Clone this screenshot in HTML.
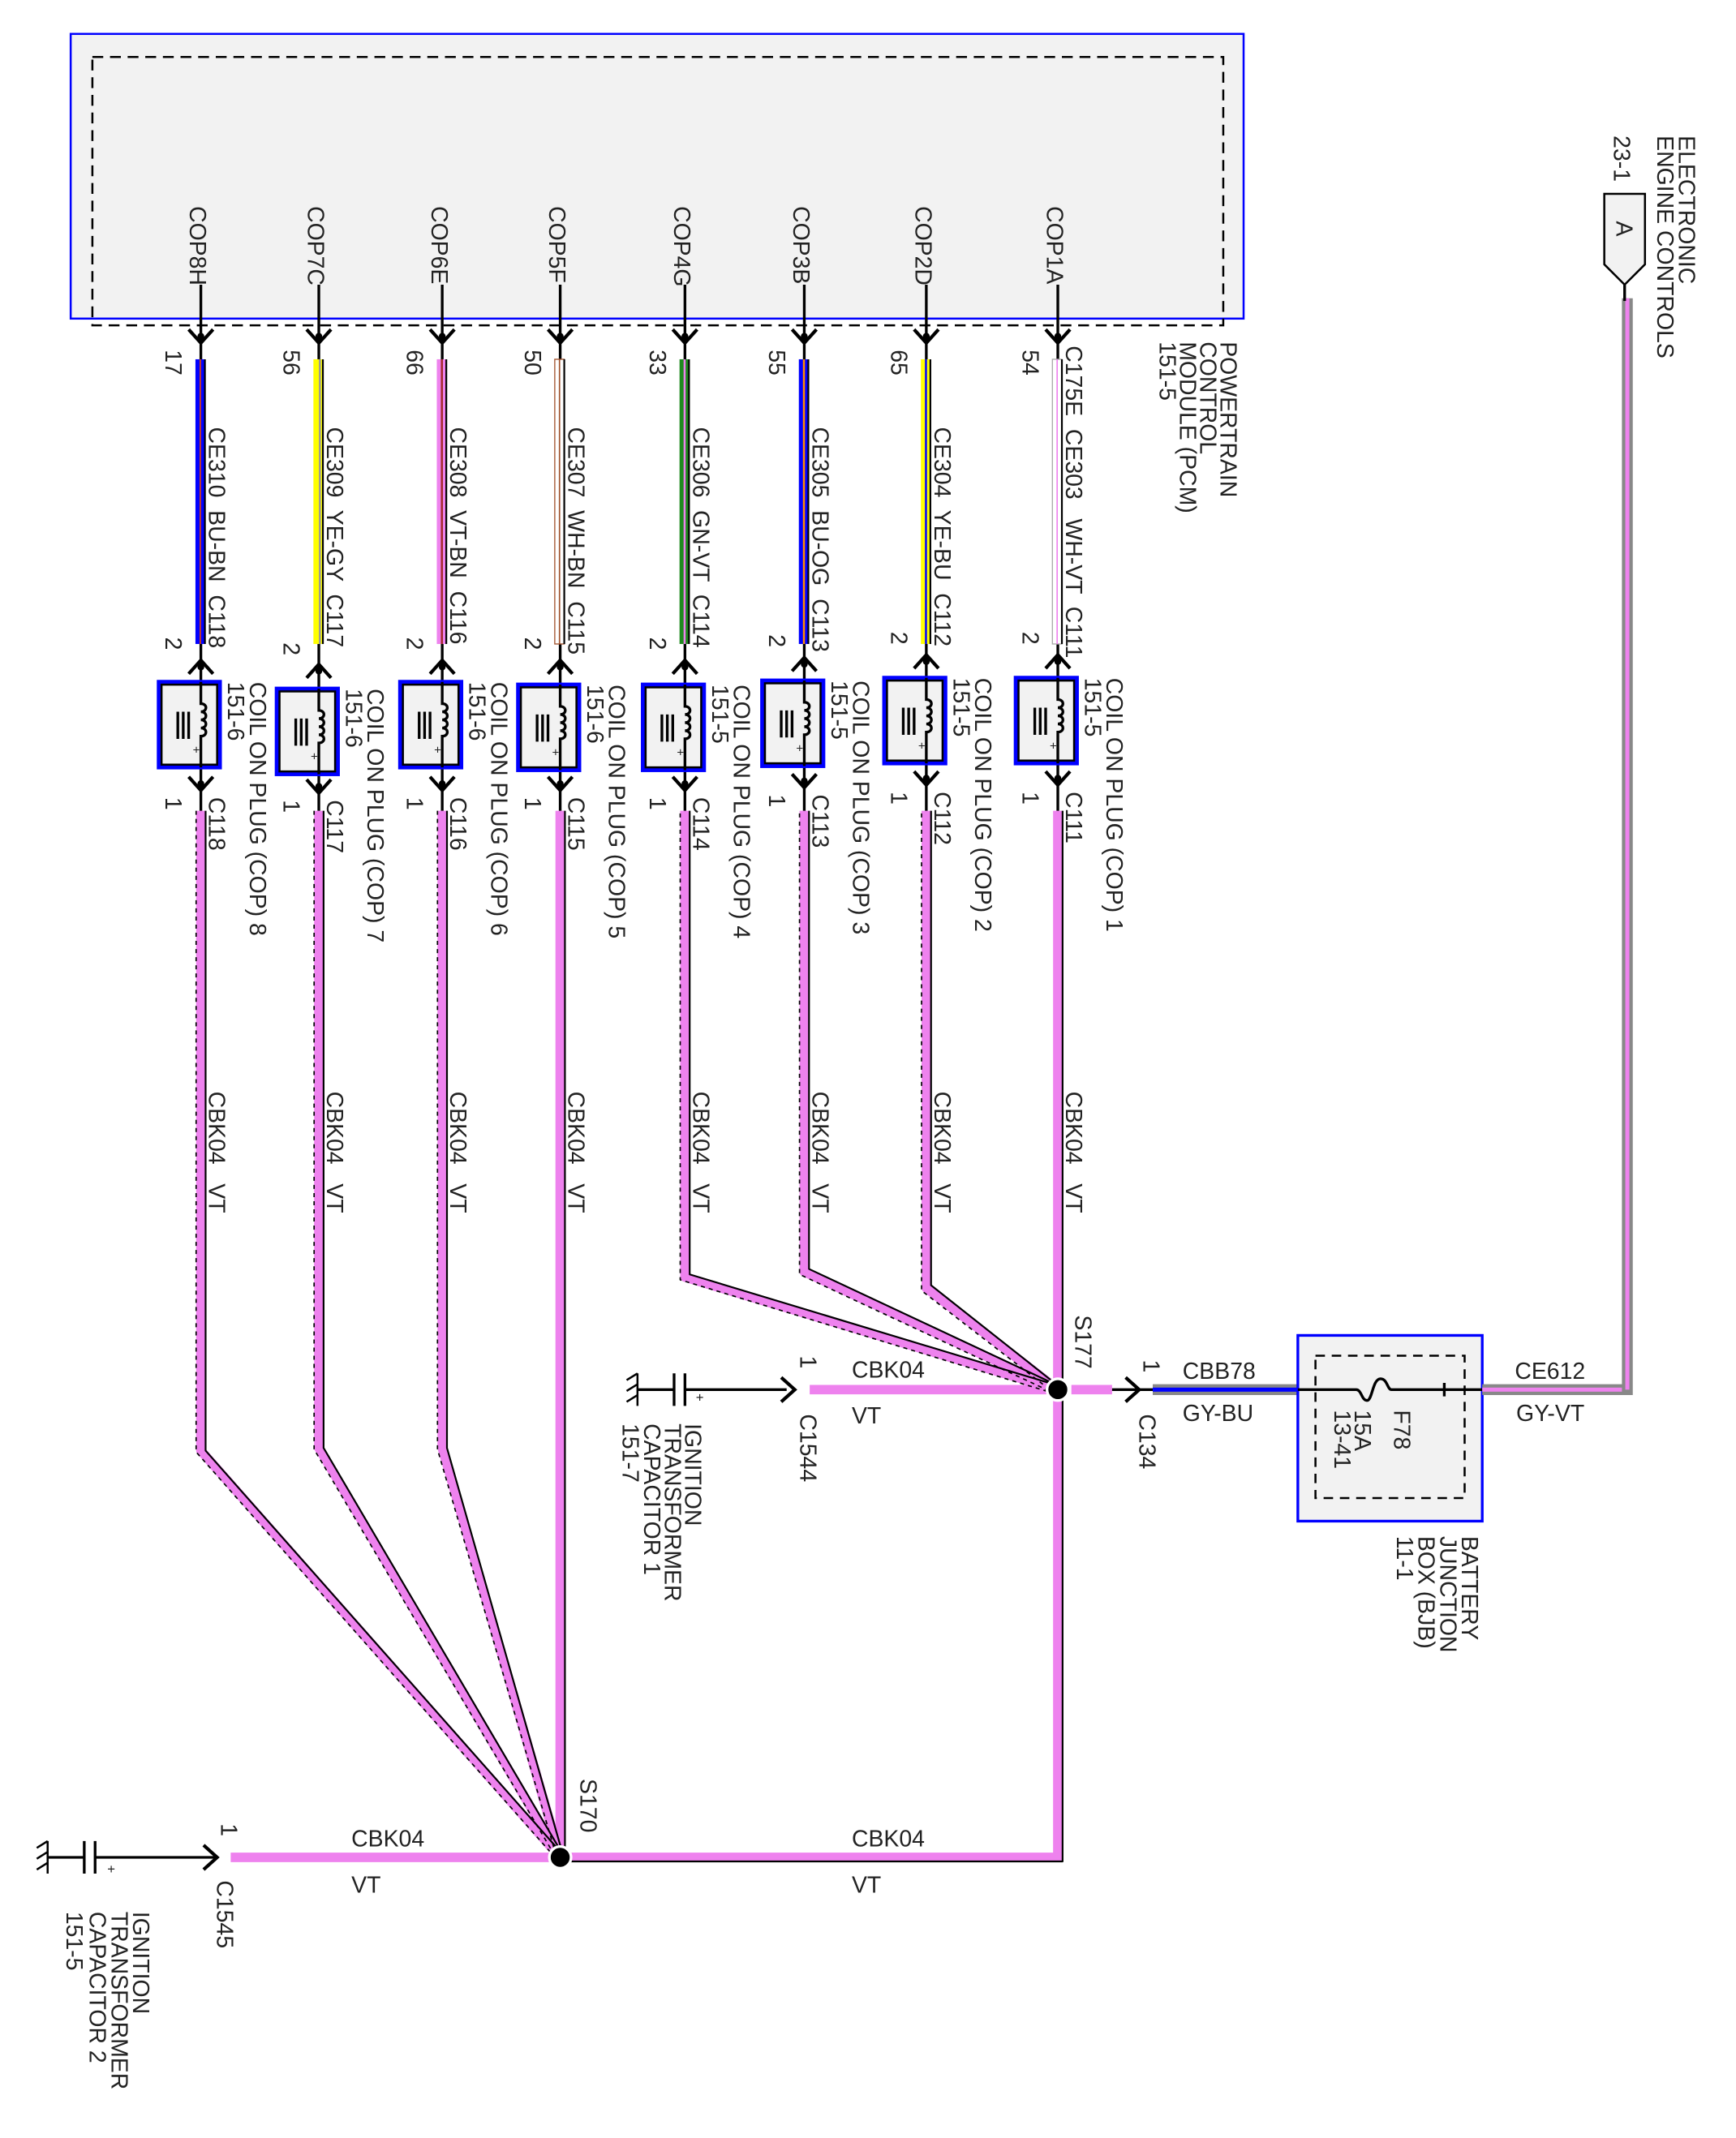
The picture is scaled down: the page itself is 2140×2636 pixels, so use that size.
<!DOCTYPE html>
<html><head><meta charset="utf-8"><style>
html,body{margin:0;padding:0;background:#fff}
svg{display:block}
text{font-family:"Liberation Sans",sans-serif;font-size:17px;fill:#222}
</style></head><body>
<svg width="2140" height="2636" viewBox="0 0 1280 1577" xmlns="http://www.w3.org/2000/svg">
<defs>
<g id="ad"><path d="M-9,-7 L0,3 L9,-7" fill="none" stroke="#000" stroke-width="2.5"/><circle cx="0" cy="-2" r="2.5" fill="#000"/></g>
<g id="au"><path d="M-9,7 L0,-3 L9,7" fill="none" stroke="#000" stroke-width="2.5"/><circle cx="0" cy="2" r="2.5" fill="#000"/></g>
<g id="coil">
<rect x="-31" y="0" width="45" height="63" fill="#f2f2f2" stroke="#0000ff" stroke-width="3"/>
<rect x="-29" y="2" width="41" height="59" fill="none" stroke="#000" stroke-width="1.5"/>
<path d="M0,0 V16 c5,0 5,6 0,6 c5,0 5,6 0,6 c5,0 5,6 0,6 c5,0 5,6 0,6 V63" fill="none" stroke="#000" stroke-width="2"/>
<path d="M-17,22 V42 M-13,22 V42 M-9,22 V42" stroke="#000" stroke-width="2"/>
<text x="-6" y="53" style="font-size:9px">+</text>
</g>
</defs>

<!-- PCM -->
<rect x="52" y="25" width="865" height="210" fill="#f2f2f2" stroke="#0000ff" stroke-width="1.5"/>
<rect x="68" y="42" width="834" height="198" fill="none" stroke="#000" stroke-width="1.5" stroke-dasharray="8,5"/>
<g transform="translate(900,252) rotate(90)"><text x="0" y="0">POWERTRAIN</text><text x="0" y="15">CONTROL</text><text x="0" y="30">MODULE (PCM)</text><text x="0" y="45">151-5</text></g>

<!-- wire columns -->
<g stroke-linecap="butt">
<path d="M148,210 V265 M235,210 V265 M326,210 V265 M413,210 V265 M505,210 V265 M593,210 V265 M683,210 V265 M780,210 V265" stroke="#000" stroke-width="2"/>
<path d="M148,475 V600 M235,475 V600 M326,475 V600 M413,475 V600 M505,475 V600 M593,475 V600 M683,475 V600 M780,475 V600" stroke="#000" stroke-width="2"/>
<rect x="144" y="265" width="7" height="210" fill="#0000ff"/><rect x="147" y="265" width="1.2" height="210" fill="#c0392b"/>
<rect x="231" y="265" width="7" height="210" fill="#ffff00"/><rect x="235" y="265" width="1.5" height="210" fill="#999"/>
<rect x="322" y="265" width="7" height="210" fill="#ee82ee"/><rect x="325" y="265" width="1.5" height="210" fill="#a52a2a"/>
<rect x="409" y="265" width="7" height="210" fill="#fff" stroke="#a0522d" stroke-width=".8"/><rect x="412" y="265" width="1" height="210" fill="#a0522d"/>
<rect x="501" y="265" width="7" height="210" fill="#1f8a1f"/><rect x="504" y="265" width="1.5" height="210" fill="#ee82ee"/>
<rect x="589" y="265" width="7" height="210" fill="#0000ff"/><rect x="592" y="265" width="1.5" height="210" fill="#ff8c00"/>
<rect x="679" y="265" width="7" height="210" fill="#ffff00"/><rect x="682" y="265" width="1.5" height="210" fill="#0000ff"/>
<rect x="776" y="265" width="7" height="210" fill="#fff" stroke="#aaa" stroke-width=".8"/><rect x="779" y="265" width="1" height="210" fill="#ee82ee"/>
<path d="M151,265 V475 M238,265 V475 M329,265 V475 M416,265 V475 M508,265 V475 M596,265 V475 M686,265 V475 M783,265 V475" stroke="#000" stroke-width="1.3"/>
</g>

<!-- coils -->
<use href="#coil" x="148" y="503"/><use href="#coil" x="235" y="508"/><use href="#coil" x="326" y="503"/><use href="#coil" x="413" y="505"/>
<use href="#coil" x="505" y="505"/><use href="#coil" x="593" y="502"/><use href="#coil" x="683" y="500"/><use href="#coil" x="780" y="500"/>

<!-- arrows -->
<g>
<use href="#ad" x="148" y="250"/><use href="#ad" x="235" y="250"/><use href="#ad" x="326" y="250"/><use href="#ad" x="413" y="250"/><use href="#ad" x="505" y="250"/><use href="#ad" x="593" y="250"/><use href="#ad" x="683" y="250"/><use href="#ad" x="780" y="250"/>
<use href="#au" x="148" y="490"/><use href="#au" x="235" y="493"/><use href="#au" x="326" y="490"/><use href="#au" x="413" y="490"/><use href="#au" x="505" y="490"/><use href="#au" x="593" y="488"/><use href="#au" x="683" y="486"/><use href="#au" x="780" y="486"/>
<use href="#ad" x="148" y="580"/><use href="#ad" x="235" y="582"/><use href="#ad" x="326" y="580"/><use href="#ad" x="413" y="580"/><use href="#ad" x="505" y="580"/><use href="#ad" x="593" y="578"/><use href="#ad" x="683" y="576"/><use href="#ad" x="780" y="576"/>
</g>

<!-- pink harness -->
<g fill="none" stroke-linejoin="round">
<path d="M148,598 V1070 L413,1370 M235,598 V1068 L413,1370 M326,598 V1068 L413,1370 M413,598 V1370 M505,598 V942 L780,1025 M593,598 V938 L780,1025 M683,598 V950 L780,1025 M780,598 V1370 H413 M170,1370 H413 M597,1025 H780 M790,1025 H820" stroke="#ee82ee" stroke-width="7"/>
<path d="M151.5,598 V1070 L415,1368 M238.5,598 V1068 L415,1368 M329.5,598 V1068 L415,1368 M416.5,598 V1370 M508.5,598 V940 L780,1022 M596.5,598 V936 L780,1022 M686.5,598 V948 L780,1022 M783.5,598 V1373 H413" stroke="#000" stroke-width="1.3"/>
<path d="M144.5,598 V1071 L411,1372 M231.5,598 V1069 L411,1372 M322.5,598 V1069 L411,1372 M501.5,600 V944 L778,1028 M589.5,600 V940 L778,1028 M679.5,600 V952 L778,1028" stroke="#000" stroke-width="1" stroke-dasharray="3,3"/>
</g>
<circle cx="413" cy="1370" r="8" fill="#000" stroke="#fff" stroke-width="2"/>
<circle cx="780" cy="1025" r="8" fill="#000" stroke="#fff" stroke-width="2"/>

<!-- capacitor 1 -->
<path d="M470,1025 H497 M505,1025 H580" stroke="#000" stroke-width="2"/>
<path d="M497,1013 V1037 M505,1013 V1037" stroke="#000" stroke-width="2"/>
<path d="M470,1013 V1037 M470,1013 l-8,5 M470,1021 l-8,5 M470,1029 l-8,5" stroke="#000" stroke-width="1.5"/>
<text x="513" y="1034" style="font-size:10px">+</text>
<path d="M576,1016 L586,1025 L576,1034" fill="none" stroke="#000" stroke-width="2.5"/>
<!-- capacitor 2 -->
<path d="M35,1370 H62 M70,1370 H160" stroke="#000" stroke-width="2"/>
<path d="M62,1358 V1382 M70,1358 V1382" stroke="#000" stroke-width="2"/>
<path d="M35,1358 V1382 M35,1358 l-8,5 M35,1366 l-8,5 M35,1374 l-8,5" stroke="#000" stroke-width="1.5"/>
<text x="79" y="1382" style="font-size:10px">+</text>
<path d="M150,1361 L160,1370 L150,1379" fill="none" stroke="#000" stroke-width="2.5"/>

<!-- C134 + BJB -->
<path d="M820,1025 H850" stroke="#000" stroke-width="2"/>
<path d="M830,1016 L840,1025 L830,1034" fill="none" stroke="#000" stroke-width="2.5"/>
<rect x="850" y="1021" width="107" height="8" fill="#888"/><rect x="850" y="1023.5" width="107" height="3" fill="#0000ff"/>
<rect x="957" y="985" width="136" height="137" fill="#f2f2f2" stroke="#0000ff" stroke-width="2"/>
<rect x="970" y="1000" width="110" height="105" fill="none" stroke="#000" stroke-width="1.5" stroke-dasharray="7,5"/>
<path d="M957,1025 H1000 c4,0 4,8 8,8 c4,0 4,-16 10,-16 c5,0 5,8 8,8 H1093 M1065,1020 V1030" fill="none" stroke="#000" stroke-width="2"/>
<rect x="1093" y="1021" width="107" height="8" fill="#888"/><rect x="1093" y="1023.5" width="107" height="3" fill="#ee82ee"/>
<rect x="1196" y="220" width="8" height="809" fill="#888"/><rect x="1198.5" y="220" width="3" height="805" fill="#ee82ee"/>
<path d="M1183,143 H1213 V195 L1198,210 L1183,195 Z" fill="#f2f2f2" stroke="#000" stroke-width="1.5"/>
<path d="M1198,210 V222" stroke="#000" stroke-width="2"/>

<!-- rotated labels -->
<g>
<g transform="translate(140,152) rotate(90)"><text>COP8H</text></g>
<g transform="translate(227,152) rotate(90)"><text>COP7C</text></g>
<g transform="translate(318,152) rotate(90)"><text>COP6E</text></g>
<g transform="translate(405,152) rotate(90)"><text>COP5F</text></g>
<g transform="translate(497,152) rotate(90)"><text>COP4G</text></g>
<g transform="translate(585,152) rotate(90)"><text>COP3B</text></g>
<g transform="translate(675,152) rotate(90)"><text>COP2D</text></g>
<g transform="translate(772,152) rotate(90)"><text>COP1A</text></g>

<g transform="translate(122,258) rotate(90)"><text>17</text></g>
<g transform="translate(209,258) rotate(90)"><text>56</text></g>
<g transform="translate(300,258) rotate(90)"><text>66</text></g>
<g transform="translate(387,258) rotate(90)"><text>50</text></g>
<g transform="translate(479,258) rotate(90)"><text>33</text></g>
<g transform="translate(567,258) rotate(90)"><text>55</text></g>
<g transform="translate(657,258) rotate(90)"><text>65</text></g>
<g transform="translate(754,258) rotate(90)"><text>54</text></g>

<g transform="translate(154,315) rotate(90)"><text xml:space="preserve">CE310  BU-BN  C118</text></g>
<g transform="translate(241,315) rotate(90)"><text xml:space="preserve">CE309  YE-GY  C117</text></g>
<g transform="translate(332,315) rotate(90)"><text xml:space="preserve">CE308  VT-BN  C116</text></g>
<g transform="translate(419,315) rotate(90)"><text xml:space="preserve">CE307  WH-BN  C115</text></g>
<g transform="translate(511,315) rotate(90)"><text xml:space="preserve">CE306  GN-VT  C114</text></g>
<g transform="translate(599,315) rotate(90)"><text xml:space="preserve">CE305  BU-OG  C113</text></g>
<g transform="translate(689,315) rotate(90)"><text xml:space="preserve">CE304  YE-BU  C112</text></g>
<g transform="translate(786,255) rotate(90)"><text xml:space="preserve">C175E  CE303   WH-VT  C111</text></g>

<g transform="translate(122,470) rotate(90)"><text>2</text></g>
<g transform="translate(209,474) rotate(90)"><text>2</text></g>
<g transform="translate(300,470) rotate(90)"><text>2</text></g>
<g transform="translate(387,470) rotate(90)"><text>2</text></g>
<g transform="translate(479,470) rotate(90)"><text>2</text></g>
<g transform="translate(567,468) rotate(90)"><text>2</text></g>
<g transform="translate(657,466) rotate(90)"><text>2</text></g>
<g transform="translate(754,466) rotate(90)"><text>2</text></g>

<g transform="translate(168,503) rotate(90)"><text>151-6</text><text y="-16">COIL ON PLUG (COP) 8</text></g>
<g transform="translate(255,508) rotate(90)"><text>151-6</text><text y="-16">COIL ON PLUG (COP) 7</text></g>
<g transform="translate(346,503) rotate(90)"><text>151-6</text><text y="-16">COIL ON PLUG (COP) 6</text></g>
<g transform="translate(433,505) rotate(90)"><text>151-6</text><text y="-16">COIL ON PLUG (COP) 5</text></g>
<g transform="translate(525,505) rotate(90)"><text>151-5</text><text y="-16">COIL ON PLUG (COP) 4</text></g>
<g transform="translate(613,502) rotate(90)"><text>151-5</text><text y="-16">COIL ON PLUG (COP) 3</text></g>
<g transform="translate(703,500) rotate(90)"><text>151-5</text><text y="-16">COIL ON PLUG (COP) 2</text></g>
<g transform="translate(800,500) rotate(90)"><text>151-5</text><text y="-16">COIL ON PLUG (COP) 1</text></g>

<g transform="translate(122,588) rotate(90)"><text>1</text></g>
<g transform="translate(209,590) rotate(90)"><text>1</text></g>
<g transform="translate(300,588) rotate(90)"><text>1</text></g>
<g transform="translate(387,588) rotate(90)"><text>1</text></g>
<g transform="translate(479,588) rotate(90)"><text>1</text></g>
<g transform="translate(567,586) rotate(90)"><text>1</text></g>
<g transform="translate(657,584) rotate(90)"><text>1</text></g>
<g transform="translate(754,584) rotate(90)"><text>1</text></g>

<g transform="translate(154,588) rotate(90)"><text>C118</text></g>
<g transform="translate(241,590) rotate(90)"><text>C117</text></g>
<g transform="translate(332,588) rotate(90)"><text>C116</text></g>
<g transform="translate(419,588) rotate(90)"><text>C115</text></g>
<g transform="translate(511,588) rotate(90)"><text>C114</text></g>
<g transform="translate(599,586) rotate(90)"><text>C113</text></g>
<g transform="translate(689,584) rotate(90)"><text>C112</text></g>
<g transform="translate(786,584) rotate(90)"><text>C111</text></g>

<g transform="translate(154,805) rotate(90)"><text xml:space="preserve">CBK04   VT</text></g>
<g transform="translate(241,805) rotate(90)"><text xml:space="preserve">CBK04   VT</text></g>
<g transform="translate(332,805) rotate(90)"><text xml:space="preserve">CBK04   VT</text></g>
<g transform="translate(419,805) rotate(90)"><text xml:space="preserve">CBK04   VT</text></g>
<g transform="translate(511,805) rotate(90)"><text xml:space="preserve">CBK04   VT</text></g>
<g transform="translate(599,805) rotate(90)"><text xml:space="preserve">CBK04   VT</text></g>
<g transform="translate(689,805) rotate(90)"><text xml:space="preserve">CBK04   VT</text></g>
<g transform="translate(786,805) rotate(90)"><text xml:space="preserve">CBK04   VT</text></g>

<g transform="translate(793,970) rotate(90)"><text>S177</text></g>
<g transform="translate(428,1312) rotate(90)"><text>S170</text></g>
<g transform="translate(590,1000) rotate(90)"><text>1</text></g>
<g transform="translate(590,1043) rotate(90)"><text>C1544</text></g>
<g transform="translate(843,1003) rotate(90)"><text>1</text></g>
<g transform="translate(840,1043) rotate(90)"><text>C134</text></g>
<g transform="translate(163,1345) rotate(90)"><text>1</text></g>
<g transform="translate(160,1387) rotate(90)"><text>C1545</text></g>
<g transform="translate(1028,1040) rotate(90)"><text>F78</text><text y="29">15A</text><text y="44">13-41</text></g>
<g transform="translate(1078,1133) rotate(90)"><text>BATTERY</text><text y="16">JUNCTION</text><text y="32">BOX (BJB)</text><text y="48">11-1</text></g>
<g transform="translate(505,1050) rotate(90)"><text>IGNITION</text><text y="15">TRANSFORMER</text><text y="30">CAPACITOR 1</text><text y="46">151-7</text></g>
<g transform="translate(98,1410) rotate(90)"><text>IGNITION</text><text y="16">TRANSFORMER</text><text y="32">CAPACITOR 2</text><text y="49">151-5</text></g>
<g transform="translate(1238,100) rotate(90)"><text>ELECTRONIC</text><text y="16">ENGINE CONTROLS</text><text y="48">23-1</text></g>
<g transform="translate(1192,163) rotate(90)"><text>A</text></g>
</g>

<!-- horizontal labels -->
<g>
<text x="628" y="1016">CBK04</text><text x="628" y="1050">VT</text>
<text x="872" y="1017">CBB78</text><text x="872" y="1048">GY-BU</text>
<text x="1117" y="1017">CE612</text><text x="1118" y="1048">GY-VT</text>
<text x="259" y="1362">CBK04</text><text x="259" y="1396">VT</text>
<text x="628" y="1362">CBK04</text><text x="628" y="1396">VT</text>
</g>
</svg>
</body></html>
